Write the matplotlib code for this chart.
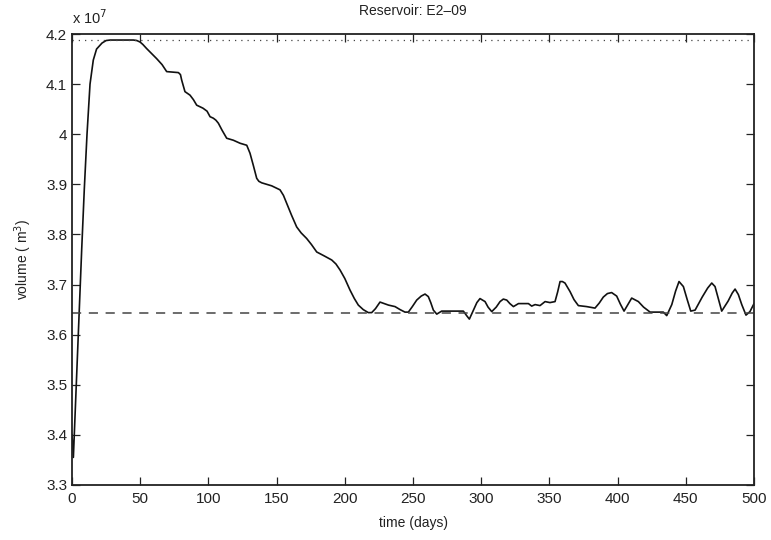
import matplotlib

matplotlib.use("Agg")
import matplotlib.pyplot as plt

plt.rcParams["font.family"] = ["Liberation Sans", "DejaVu Sans"]

# reservoir volume (x 1e7 m^3)
days = [0, 1, 4, 7.1, 9, 11, 13.2, 15.6, 18, 22, 25, 28, 35, 45, 47.5,
        49.9, 52, 54.7, 58, 62, 66, 69.4, 78, 79.5, 80.4, 82.8, 86.5,
        89, 91.4, 96, 99, 101.2, 103.6, 105.5, 107.3, 110, 113.4, 118.3,
        123.2, 128.1, 130.5, 133, 135.4, 137, 139.1, 146.4, 152.5, 155,
        157.4, 161, 164.7, 168, 172, 175.5, 179.4, 185, 190.4, 193.5,
        196.5, 200, 203.8, 207, 209.9, 213.5, 217.2, 219.7, 222.5, 225.8,
        229, 232, 236.8, 240.5, 244.1, 246.6, 249.5, 252.7, 256, 258.8,
        261.2, 263, 264.9, 267.4, 271, 274.7, 286.9, 289.3, 291.3, 294.3,
        296.8, 299.1, 302.8, 305, 307.7, 311, 313.8, 316.2, 318.7, 321,
        323.6, 327.3, 334.6, 337, 339.5, 343.1, 346.8, 350.4, 354.1, 356,
        357.8, 359.5, 361.4, 365.1, 368, 371.2, 377.3, 383.4, 386.5,
        389.5, 392.5, 395.6, 399.3, 402, 404.7, 407.5, 410.3, 415.2, 419,
        423.8, 433.5, 436, 439.7, 442.5, 445, 448.2, 451, 453.6, 456.8,
        462, 466, 469, 471.4, 474, 476.3, 481, 484, 486.1, 488.5, 491,
        494.1, 497, 500]
volume = [3.40, 3.355, 3.56, 3.77, 3.89, 4.00, 4.10, 4.148, 4.17, 4.182,
          4.187, 4.188, 4.188, 4.188, 4.187, 4.184, 4.179, 4.171, 4.162,
          4.151, 4.139, 4.125, 4.123, 4.119, 4.108, 4.085, 4.078, 4.069,
          4.058, 4.052, 4.046, 4.035, 4.032, 4.028, 4.022, 4.008, 3.992,
          3.988, 3.982, 3.978, 3.962, 3.937, 3.912, 3.906, 3.903, 3.897,
          3.889, 3.878, 3.862, 3.838, 3.815, 3.803, 3.792, 3.780, 3.765,
          3.757, 3.749, 3.741, 3.729, 3.712, 3.689, 3.672, 3.659, 3.650,
          3.644, 3.644, 3.652, 3.665, 3.662, 3.659, 3.656, 3.650, 3.645,
          3.645, 3.656, 3.669, 3.677, 3.681, 3.676, 3.664, 3.649, 3.641,
          3.647, 3.647, 3.647, 3.638, 3.631, 3.649, 3.664, 3.672, 3.666,
          3.655, 3.646, 3.655, 3.666, 3.671, 3.669, 3.662, 3.656, 3.662,
          3.662, 3.657, 3.660, 3.658, 3.666, 3.664, 3.666, 3.685, 3.706,
          3.706, 3.703, 3.686, 3.670, 3.658, 3.656, 3.653, 3.663, 3.675,
          3.682, 3.684, 3.677, 3.661, 3.647, 3.660, 3.673, 3.666, 3.655,
          3.645, 3.645, 3.638, 3.660, 3.687, 3.706, 3.696, 3.670, 3.647,
          3.649, 3.675, 3.693, 3.703, 3.696, 3.670, 3.647, 3.667, 3.683,
          3.691, 3.680, 3.660, 3.639, 3.646, 3.662]
capacity = 4.188
target = 3.644

fig = plt.figure(figsize=(7.71, 5.40), dpi=100)
ax = fig.add_axes([0.0934, 0.1019, 0.8846, 0.8351])

ax.plot(days, volume, color="#111111", lw=1.2)
ax.axhline(capacity, color="#444444", lw=0.9, ls=(0, (1, 4)))
ax.axhline(target, color="#444444", lw=1.1, ls=(0, (6, 5)))

ax.set_xlim(0, 500)
ax.set_ylim(3.3, 4.2)
ax.set_xticks(range(0, 501, 50))
ax.set_yticks([3.3, 3.4, 3.5, 3.6, 3.7, 3.8, 3.9, 4.0, 4.1, 4.2])
ax.set_yticklabels(["3.3", "3.4", "3.5", "3.6", "3.7", "3.8", "3.9", "4",
                    "4.1", "4.2"])
ax.tick_params(direction="in", length=6, width=0.9, top=True, right=True,
               labelsize=11, colors="#222222")
ax.tick_params(axis="x", pad=5)
for s in ax.spines.values():
    s.set_linewidth(1.3)
    s.set_color("#222222")

ax.text(0.0, 1.015, r"x 10$^7$", transform=ax.transAxes, fontsize=10.5,
        ha="left", va="bottom", color="#222222")
ax.set_title("Reservoir: E2–09", fontsize=10, color="#222222", pad=14)
ax.set_xlabel("time (days)", fontsize=10, color="#222222", labelpad=7)
ax.set_ylabel("volume ( m$^3$)", fontsize=10, color="#222222", labelpad=9)

fig.savefig("out.png", dpi=100)
